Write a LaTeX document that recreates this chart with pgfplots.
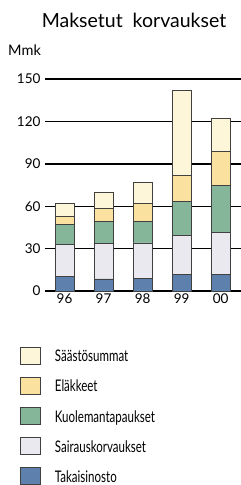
\documentclass[border=0pt]{standalone}
\usepackage{fontspec}
\setmainfont{Lato}
\newfontfamily\condfont[FakeStretch=0.72]{Lato}
\usepackage{pgfplots}
\pgfplotsset{compat=1.18}
\definecolor{cT}{HTML}{5D80AC}
\definecolor{cS}{HTML}{E9E9EF}
\definecolor{cK}{HTML}{86B69A}
\definecolor{cE}{HTML}{FBE19F}
\definecolor{cSa}{HTML}{FEF6D8}
\definecolor{edge}{HTML}{404040}
\begin{document}
\begin{tikzpicture}[x=1pt,y=1pt]
\path[use as bounding box] (0,0) rectangle (241,-485);
\node[anchor=base] at (134,-27) {\fontsize{19.5}{21}\selectfont Maksetut\ \ korvaukset};
\node[anchor=base west, inner sep=0pt] at (8,-55) {\fontsize{14.5}{16}\selectfont Mmk};
\begin{axis}[
  at={(45pt,-291pt)}, anchor=south west,
  scale only axis, width=196pt, height=212pt,
  ybar stacked, bar width=19pt,
  xmin=-0.5, xmax=4.52, ymin=0, ymax=150,
  xtick=data, xticklabels={96,97,98,99,00},
  ytick={0,30,60,90,120,150},
  ymajorgrids, grid style={black, line width=1.4pt},
  axis line style={draw=none},
  major tick style={draw=none},
  /pgf/number format/assume math mode=true,
  ticklabel style={font=\fontsize{13.5}{15}\selectfont},
  yticklabel style={xshift=-1pt},
  xticklabel style={yshift=1pt},
  every axis plot/.append style={draw=edge, line width=0.9pt},
  reverse legend,
  legend style={draw=none, fill=none, at={(-0.1276,-0.264)}, anchor=north west,
    inner sep=0pt, outer sep=0pt, row sep=12.2pt,
    /tikz/every odd column/.style={column sep=14pt},
    font=\condfont\fontsize{16}{18}\selectfont,
    nodes={inner sep=0pt, anchor=west, text depth=0pt}},
  legend cell align=left,
  legend image code/.code={\draw[#1, line width=0.9pt] (0pt,-8.5pt) rectangle (20pt,8.5pt);},
]
\addplot[fill=cT] coordinates {(0,10) (1,8.5) (2,8.7) (3,11.8) (4,11.6)};
\addplot[fill=cS] coordinates {(0,22.6) (1,25) (2,25.3) (3,27.2) (4,30)};
\addplot[fill=cK] coordinates {(0,14.2) (1,15.6) (2,15.1) (3,24.3) (4,32.8)};
\addplot[fill=cE] coordinates {(0,6.1) (1,9.3) (2,12.8) (3,18.2) (4,24.1)};
\addplot[fill=cSa] coordinates {(0,8.8) (1,11.3) (2,14.9) (3,60.2) (4,23.4)};
\legend{Takaisinosto,Sairauskorvaukset,Kuolemantapaukset,Eläkkeet,Säästösummat}
\end{axis}
\end{tikzpicture}
\end{document}
